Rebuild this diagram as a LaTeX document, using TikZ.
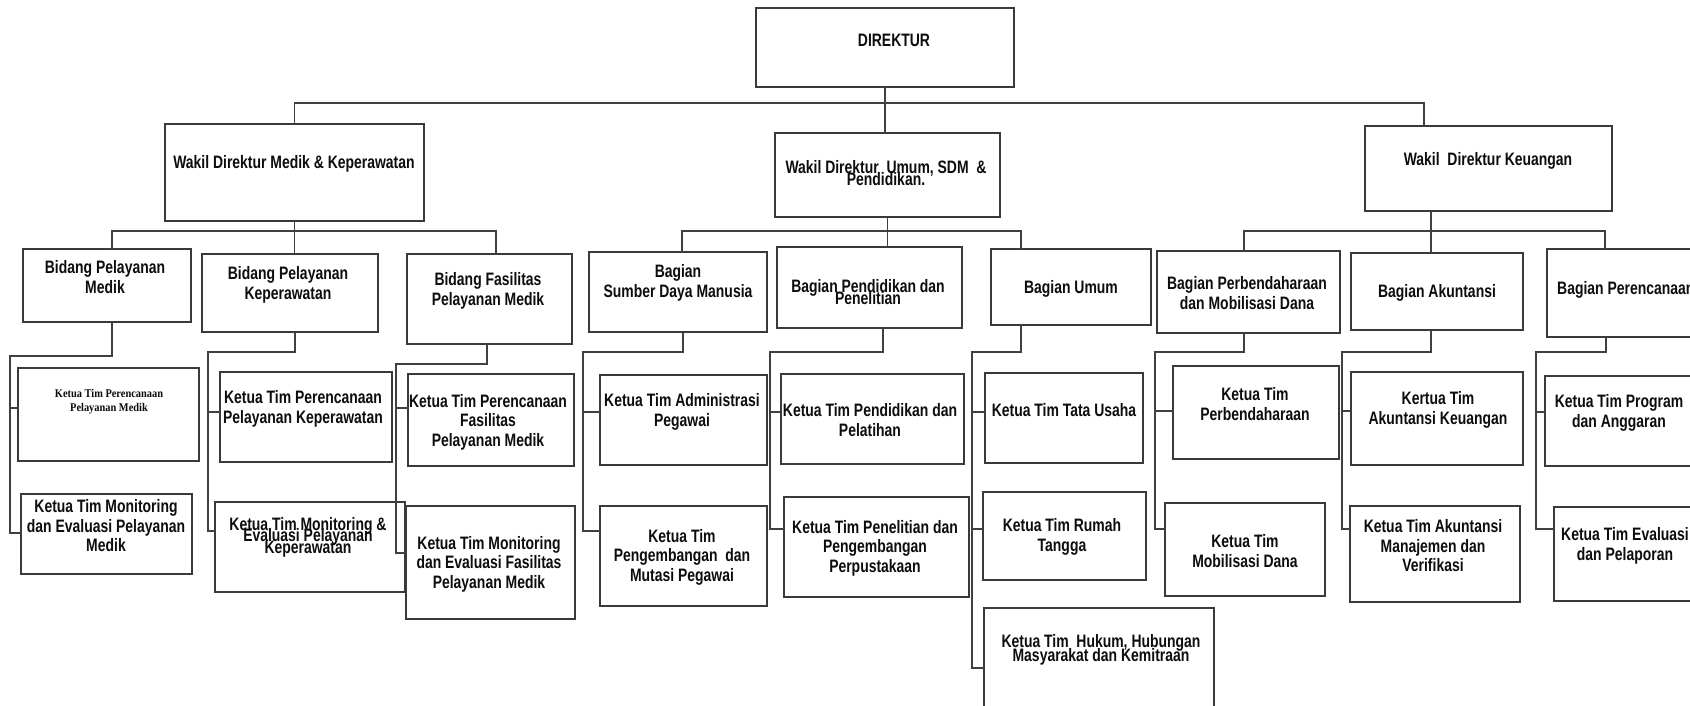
\documentclass[tikz,border=0pt]{standalone}
\usepackage{fontspec}
\newfontfamily\lbf[FakeStretch=0.775]{Liberation Sans}
\newfontfamily\tmf[FakeStretch=0.88]{Liberation Serif}
\definecolor{boxc}{HTML}{3A3A3A}
\definecolor{linec}{HTML}{404040}
\newcommand\nolsk{\lineskiplimit=-30pt\relax}
\newcommand\obox[5]{\node[boxs,minimum width={(#4-#2)*1pt},minimum height={(#5-#3)*1pt}] (#1) at (#2,#3) {};}
\newcommand\otx[5]{\node[lbl,#4] (#1) at (#2,#3) {#5};}
\begin{document}
\begin{tikzpicture}[x=1pt,y=-1pt,
  boxs/.style={draw=boxc,line width=1.5pt,rectangle,anchor=north west,inner sep=0pt,outer sep=0pt},
  conn/.style={draw=linec,line width=1.3pt},
  lbl/.style={font=\lbf\bfseries\fontsize{18}{19.5}\selectfont\nolsk,align=center,inner sep=0pt,text=black!95},
  tight/.style={font=\lbf\bfseries\fontsize{18}{11.5}\selectfont\nolsk},
  mid/.style={font=\lbf\bfseries\fontsize{18}{14}\selectfont\nolsk},
  serif/.style={font=\tmf\bfseries\fontsize{11.8}{14}\selectfont\nolsk}]
\useasboundingbox (0,0) rectangle (1690,706);
\fill[white] (0,0) rectangle (1690,706);
\clip (0,0) rectangle (1690,706);
% boxes
\obox{dir}{756}{8}{1014}{87}
\obox{wm}{165}{124}{424}{221}
\obox{wu}{775}{133}{1000}{217}
\obox{wk}{1365}{126}{1612}{211}
\obox{bpm}{23}{249}{191}{322}
\obox{bpk}{202}{254}{378}{332}
\obox{bfpm}{407}{254}{572}{344}
\obox{bsdm}{589}{252}{767}{332}
\obox{bpp}{777}{247}{962}{328}
\obox{bu}{991}{249}{1151}{325}
\obox{bpb}{1157}{251}{1340}{333}
\obox{bak}{1351}{253}{1523}{330}
\obox{bpr}{1547}{249}{1700}{337}
\obox{k1}{18}{368}{199}{461}
\obox{k2}{21}{494}{192}{574}
\obox{k3}{220}{372}{392}{462}
\obox{k4}{215}{502}{405}{592}
\obox{k5}{408}{374}{574}{466}
\obox{k6}{406}{506}{575}{619}
\obox{k7}{600}{375}{767}{465}
\obox{k8}{600}{506}{767}{606}
\obox{k9}{781}{374}{964}{464}
\obox{k10}{784}{497}{969}{597}
\obox{k11}{985}{373}{1143}{463}
\obox{k12}{983}{492}{1146}{580}
\obox{k13}{984}{608}{1214}{730}
\obox{k14}{1173}{366}{1339}{459}
\obox{k15}{1165}{503}{1325}{596}
\obox{k16}{1351}{372}{1523}{465}
\obox{k17}{1350}{506}{1520}{602}
\obox{k18}{1545}{376}{1700}{466}
\obox{k19}{1554}{507}{1700}{601}
% texts
\otx{dir-t}{894}{40}{}{DIREKTUR}
\otx{wm-t}{294}{164}{}{Wakil Direktur Medik \& Keperawatan}
\otx{wu-t}{886}{173}{tight}{Wakil Direktur~ Umum, SDM~ \&\\Pendidikan.}
\otx{wk-t}{1488}{161}{}{Wakil~ Direktur Keuangan}
\otx{bpm-t}{105}{277}{}{Bidang Pelayanan\\Medik}
\otx{bpk-t}{288}{285}{}{Bidang Pelayanan\\Keperawatan}
\otx{bfpm-t}{488}{291}{}{Bidang Fasilitas\\Pelayanan Medik}
\otx{bsdm-t}{678}{283}{}{Bagian\\Sumber Daya Manusia}
\otx{bpp-t}{868}{292}{tight}{Bagian Pendidikan dan\\Penelitian}
\otx{bu-t}{1071}{289}{}{Bagian Umum}
\otx{bpb-t}{1247}{293}{}{Bagian Perbendaharaan\\dan Mobilisasi Dana}
\otx{bak-t}{1437}{293}{}{Bagian Akuntansi}
\otx{bpr-t}{1557}{290}{anchor=west}{Bagian Perencanaan}
\otx{k1-t}{109}{402}{serif}{Ketua Tim Perencanaan\\Pelayanan Medik}
\otx{k2-t}{106}{526}{}{Ketua Tim Monitoring\\dan Evaluasi Pelayanan\\Medik}
\otx{k3-t}{303}{409}{}{Ketua Tim Perencanaan\\Pelayanan Keperawatan}
\otx{k4-t}{308}{537}{tight}{Ketua Tim Monitoring \&\\Evaluasi Pelayanan\\Keperawatan}
\otx{k5-t}{488}{422}{}{Ketua Tim Perencanaan\\Fasilitas\\Pelayanan Medik}
\otx{k6-t}{489}{564}{}{Ketua Tim Monitoring\\dan Evaluasi Fasilitas\\Pelayanan Medik}
\otx{k7-t}{682}{412}{}{Ketua Tim Administrasi\\Pegawai}
\otx{k8-t}{682}{557}{}{Ketua Tim\\Pengembangan~ dan\\Mutasi Pegawai}
\otx{k9-t}{870}{420}{}{Ketua Tim Pendidikan dan\\Pelatihan}
\otx{k10-t}{875}{548}{}{Ketua Tim Penelitian dan\\Pengembangan\\Perpustakaan}
\otx{k11-t}{1064}{410}{}{Ketua Tim Tata Usaha}
\otx{k12-t}{1062}{537}{}{Ketua Tim Rumah\\Tangga}
\otx{k13-t}{1101}{650}{mid}{Ketua Tim~ Hukum, Hubungan\\Masyarakat dan Kemitraan}
\otx{k14-t}{1255}{404}{}{Ketua Tim\\Perbendaharaan}
\otx{k15-t}{1245}{551}{}{Ketua Tim\\Mobilisasi Dana}
\otx{k16-t}{1438}{410}{}{Kertua Tim\\Akuntansi Keuangan}
\otx{k17-t}{1433}{546}{}{Ketua Tim Akuntansi\\Manajemen dan\\Verifikasi}
\otx{k18-t}{1619}{413}{}{Ketua Tim Program\\dan Anggaran}
\otx{k19-t}{1625}{546}{}{Ketua Tim Evaluasi\\dan Pelaporan}
% top level connectors
\draw[conn] (dir.south) -- (dir.south |- wu.north);
\draw[conn] (wm.north) |- (1424,103) -- (wk.north -| 1424,0);
% level 2
\draw[conn] (wm.south) -- (wm.south |- bpk.north);
\draw[conn] (bpm.north -| 112,0) |- (496,231) -- (bfpm.north -| 496,0);
\draw[conn] (wu.south) -- (wu.south |- bpp.north);
\draw[conn] (bsdm.north -| 682,0) |- (1021,231) -- (bu.north -| 1021,0);
\draw[conn] (wk.south -| 1431,0) -- (bak.north -| 1431,0);
\draw[conn] (bpb.north -| 1244,0) |- (1605,231) -- (bpr.north -| 1605,0);
% level 3
\draw[conn] (bpm.south -| 112,0) |- (10,356) |- (k2.west |- 0,533);
\draw[conn] (10,408) -- (k1.west |- 0,408);
\draw[conn] (bpk.south -| 295,0) |- (208,352) |- (k4.west |- 0,531);
\draw[conn] (208,412) -- (k3.west |- 0,412);
\draw[conn] (bfpm.south -| 487,0) |- (396,364) |- (k6.west |- 0,553);
\draw[conn] (396,408) -- (k5.west |- 0,408);
\draw[conn] (bsdm.south -| 683,0) |- (583,352) |- (k8.west |- 0,531);
\draw[conn] (583,412) -- (k7.west |- 0,412);
\draw[conn] (bpp.south -| 883,0) |- (770,352) |- (k10.west |- 0,529);
\draw[conn] (770,412) -- (k9.west |- 0,412);
\draw[conn] (bu.south -| 1021,0) |- (972,352) |- (k13.west |- 0,668);
\draw[conn] (972,412) -- (k11.west |- 0,412);
\draw[conn] (972,529) -- (k12.west |- 0,529);
\draw[conn] (bpb.south -| 1244,0) |- (1155,352) |- (k15.west |- 0,529);
\draw[conn] (1155,411) -- (k14.west |- 0,411);
\draw[conn] (bak.south -| 1431,0) |- (1342,352) |- (k17.west |- 0,529);
\draw[conn] (1342,411) -- (k16.west |- 0,411);
\draw[conn] (bpr.south -| 1606,0) |- (1536,352) |- (k19.west |- 0,529);
\draw[conn] (1536,412) -- (k18.west |- 0,412);
\end{tikzpicture}
\end{document}
